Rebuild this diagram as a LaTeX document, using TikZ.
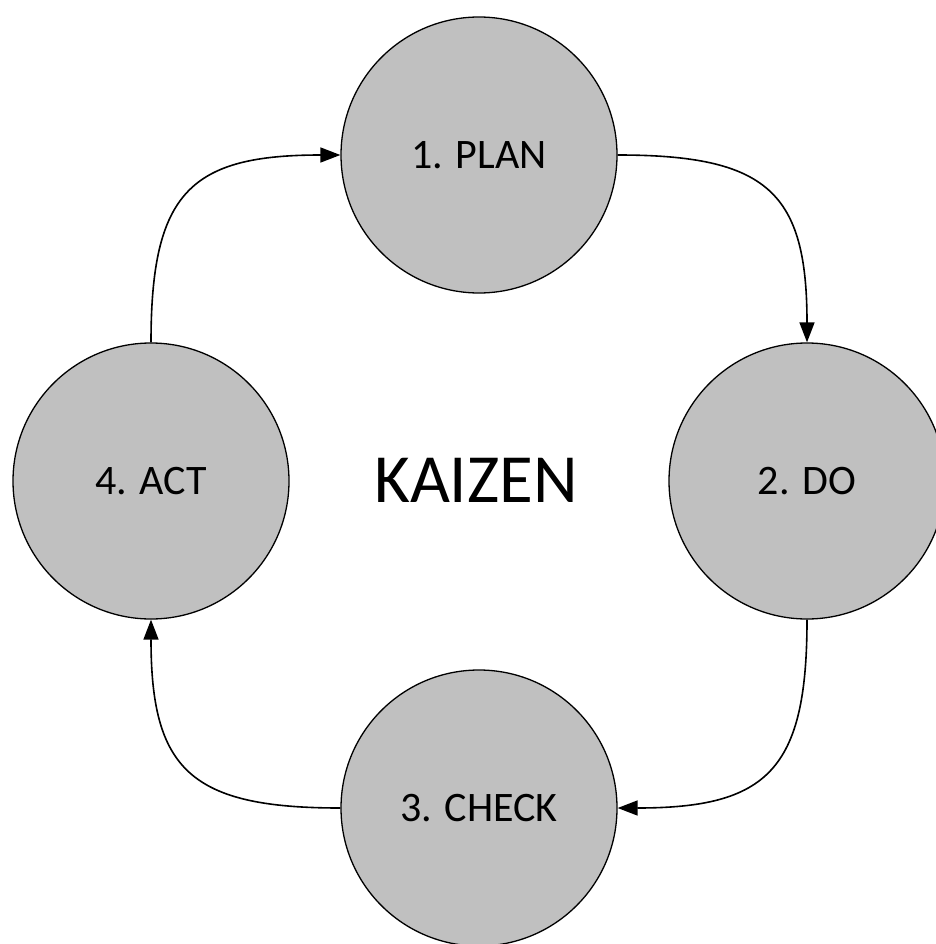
\documentclass[tikz,border=0pt]{standalone}
\usepackage{fontspec}
\setmainfont{Carlito}
\usetikzlibrary{arrows.meta}
\begin{document}
\begin{tikzpicture}[x=1pt,y=-1pt,
  stage/.style={circle,draw=black,line width=1.3pt,fill={rgb,255:red,192;green,192;blue,192},
    minimum size=276pt,inner sep=0pt,font=\fontsize{42}{50}\selectfont},
  flow/.style={line width=1.6pt,-{Triangle[length=20pt,width=15pt]}}]
\useasboundingbox (0,0) rectangle (935,944);
\node[stage] (plan) at (479,155) {1. PLAN};
\node[stage] (do) at (807,481) {2. DO};
\node[stage] (check) at (479,808) {3. CHECK};
\node[stage] (act) at (151,481) {4. ACT};
\node[font=\fontsize{69}{80}\selectfont] (kaizen) at (476,480) {KAIZEN};
\draw[flow] (plan.east) .. controls +(150,0) and +(0,-150) .. (do.north);
\draw[flow] (do.south) .. controls +(0,150) and +(150,0) .. (check.east);
\draw[flow] (check.west) .. controls +(-150,0) and +(0,150) .. (act.south);
\draw[flow] (act.north) .. controls +(0,-150) and +(-150,0) .. (plan.west);
\end{tikzpicture}
\end{document}
